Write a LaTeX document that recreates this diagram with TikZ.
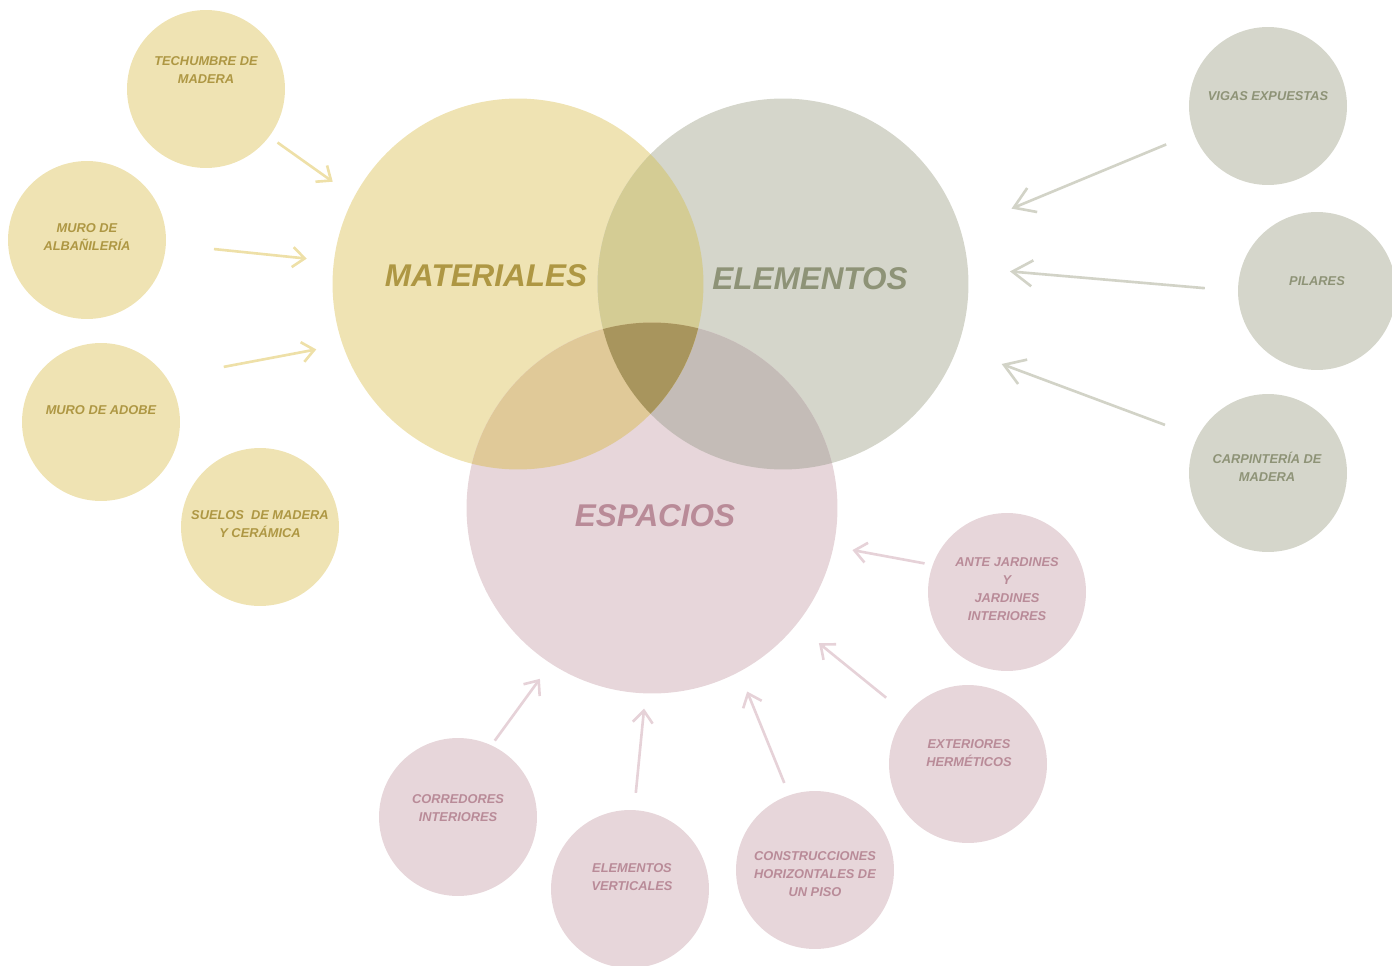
\documentclass[tikz,border=0pt]{standalone}
\usepackage{fontspec}
\setmainfont{Liberation Sans}
\usetikzlibrary{arrows.meta}

\definecolor{circY}{HTML}{EFE3B3}
\definecolor{circG}{HTML}{D5D6CB}
\definecolor{circP}{HTML}{E7D6DA}
\definecolor{ovYG}{HTML}{D4CC94}
\definecolor{ovYP}{HTML}{E0C998}
\definecolor{ovGP}{HTML}{C4BCB7}
\definecolor{ovYGP}{HTML}{A8955D}
\definecolor{txtY}{HTML}{AE9743}
\definecolor{txtG}{HTML}{8E9377}
\definecolor{txtP}{HTML}{B98B98}
\definecolor{lineY}{HTML}{EEE0A8}
\definecolor{lineG}{HTML}{D2D3C7}
\definecolor{lineP}{HTML}{E6D2D8}

\begin{document}
\begin{tikzpicture}[x=0.02cm,y=-0.02cm,
  big/.style={circle,inner sep=0pt,minimum size=7.42cm},
  small/.style={circle,inner sep=0pt,minimum size=3.16cm},
  bigtext/.style={font=\fontsize{17.9}{20}\selectfont\bfseries\itshape},
  smalltext/.style={align=center,font=\fontsize{7.3}{10.3}\selectfont\bfseries\itshape},
  arY/.style={line width=1.5pt,draw=lineY,-{Straight Barb[length=0.24cm,width=0.4cm]}},
  arG/.style={line width=1.5pt,draw=lineG,-{Straight Barb[length=0.4cm,width=0.52cm]}},
  arP/.style={line width=1.5pt,draw=lineP,-{Straight Barb[length=0.24cm,width=0.4cm]}}]
\useasboundingbox (0,0) rectangle (1392,966);

% the three big circles
\node[big,fill=circY] (mat) at (518,284) {};
\node[big,fill=circG] (ele) at (783,284) {};
\node[big,fill=circP] (esp) at (652,508) {};

% overlaps
\begin{scope}
\clip (ele.center) circle (3.71cm);
\fill[ovGP] (esp.center) circle (3.71cm);
\end{scope}
\begin{scope}
\clip (mat.center) circle (3.71cm);
\fill[ovYG] (ele.center) circle (3.71cm);
\fill[ovYP] (esp.center) circle (3.71cm);
\clip (ele.center) circle (3.71cm);
\fill[ovYGP] (esp.center) circle (3.71cm);
\end{scope}

\node[bigtext,text=txtY] (matT) at (486,276) {MATERIALES};
\node[bigtext,text=txtG] (eleT) at (810,279) {ELEMENTOS};
\node[bigtext,text=txtP] (espT) at (655,516) {ESPACIOS};

% materiales
\node[small,fill=circY] (tech) at (206,89) {};
\node[small,fill=circY] (alb) at (87,240) {};
\node[small,fill=circY] (adobe) at (101,422) {};
\node[small,fill=circY] (suelo) at (260,527) {};
\node[smalltext,text=txtY] (techT) at (206,70) {TECHUMBRE DE\\MADERA};
\node[smalltext,text=txtY] (albT) at (87,237) {MURO DE\\ALBAÑILERÍA};
\node[smalltext,text=txtY] (adobeT) at (101,410) {MURO DE ADOBE};
\node[smalltext,text=txtY] (sueloT) at (260,524) {SUELOS\ \ DE MADERA\\Y CERÁMICA};

% elementos
\node[small,fill=circG] (vigas) at (1268,106) {};
\node[small,fill=circG] (pil) at (1317,291) {};
\node[small,fill=circG] (carp) at (1268,473) {};
\node[smalltext,text=txtG] (vigasT) at (1268,96) {VIGAS EXPUESTAS};
\node[smalltext,text=txtG] (pilT) at (1317,281) {PILARES};
\node[smalltext,text=txtG] (carpT) at (1267,467) {CARPINTERÍA DE\\MADERA};

% espacios
\node[small,fill=circP] (ante) at (1007,592) {};
\node[small,fill=circP] (ext) at (968,764) {};
\node[small,fill=circP] (constr) at (815,870) {};
\node[small,fill=circP] (vert) at (630,889) {};
\node[small,fill=circP] (corr) at (458,817) {};
\node[smalltext,text=txtP] (anteT) at (1007,589) {ANTE JARDINES\\Y\\JARDINES\\INTERIORES};
\node[smalltext,text=txtP] (extT) at (969,753) {EXTERIORES\\HERMÉTICOS};
\node[smalltext,text=txtP] (constrT) at (815,874) {CONSTRUCCIONES\\HORIZONTALES DE\\UN PISO};
\node[smalltext,text=txtP] (vertT) at (632,877) {ELEMENTOS\\VERTICALES};
\node[smalltext,text=txtP] (corrT) at (458,808) {CORREDORES\\INTERIORES};

% arrows
\draw[arY,shorten <=0.2cm,shorten >=0.52cm] (tech.-37) -- (mat.152);
\draw[arY,shorten <=0.96cm,shorten >=0.54cm] (alb.-3) -- (mat.173);
\draw[arY,shorten <=1.16cm,shorten >=0.53cm] (adobe.34) -- (mat.-161);

\draw[arG,shorten <=0.59cm,shorten >=1.1cm] (vigas.-160) -- (ele.17.6);
\draw[arG,shorten <=0.66cm,shorten >=0.84cm] (pil.180) -- (ele.5.9);
\draw[arG,shorten <=0.69cm,shorten >=0.94cm] (carp.153.9) -- (ele.-20.8);

\draw[arP,shorten <=0.16cm,shorten >=0.38cm] (ante.160.5) -- (esp.-12.7);
\draw[arP,shorten <=0.52cm,shorten >=0.58cm] (ext.141.2) -- (esp.-39.1);
\draw[arP,shorten <=0.26cm,shorten >=0.42cm] (constr.109) -- (esp.-62.6);
\draw[arP,shorten <=0.34cm,shorten >=0.3cm] (vert.87) -- (esp.-92.3);
\draw[arP,shorten <=0.11cm,shorten >=0.37cm] (corr.65.6) -- (esp.-123.4);
\end{tikzpicture}
\end{document}
